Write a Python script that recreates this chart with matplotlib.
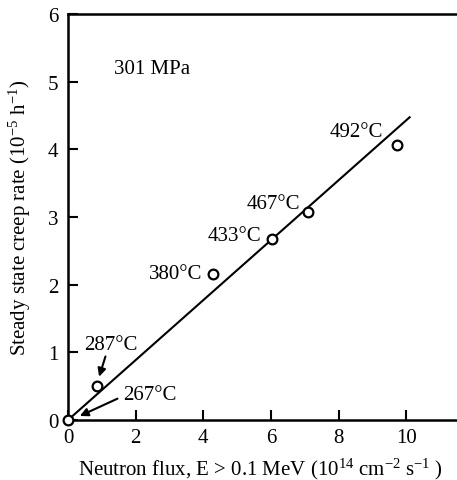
import matplotlib
matplotlib.use("Agg")
import matplotlib.pyplot as plt

# data
flux = [0.0, 0.85, 4.29, 6.02, 7.10, 9.73]
creep = [0.0, 0.51, 2.16, 2.68, 3.08, 4.07]
temps = ["267°C", "287°C", "380°C", "433°C", "467°C", "492°C"]
fit_x = [0.0, 10.1]
fit_slope = 0.443

plt.rcParams["font.family"] = ["Liberation Serif", "DejaVu Serif"]
plt.rcParams["mathtext.fontset"] = "custom"
plt.rcParams["mathtext.rm"] = "Liberation Serif"
plt.rcParams["mathtext.it"] = "Liberation Serif:italic"

fig = plt.figure(figsize=(4.57, 4.81), dpi=100)
ax = fig.add_axes([0.1488, 0.1247, 0.8512, 0.8441])

ax.plot(fit_x, [fit_slope * x for x in fit_x], "k-", lw=1.5)
ax.plot(flux, creep, "o", mfc="white", mec="k", ms=7, mew=1.6, zorder=5, clip_on=False)

ax.set_xlim(0, 11.5)
ax.set_ylim(0, 6)
ax.set_xticks([0, 2, 4, 6, 8, 10])
ax.set_yticks([0, 1, 2, 3, 4, 5, 6])
ax.tick_params(direction="in", length=7, width=1.5, labelsize=15)
ax.tick_params(axis="x", pad=6)
ax.tick_params(axis="y", pad=7)
for s in ["left", "bottom", "top"]:
    ax.spines[s].set_linewidth(1.8)
ax.spines["right"].set_visible(False)

fs = 15
ax.text(1.36, 5.2, "301 MPa", fontsize=fs, va="center", ha="left")
ax.text(9.3, 4.27, temps[5], fontsize=fs, va="center", ha="right")
ax.text(6.85, 3.2, temps[4], fontsize=fs, va="center", ha="right")
ax.text(5.7, 2.72, temps[3], fontsize=fs, va="center", ha="right")
ax.text(3.96, 2.16, temps[2], fontsize=fs, va="center", ha="right")
ax.annotate(temps[1], xy=(0.92, 0.64), xytext=(0.47, 1.12), fontsize=fs,
            va="center", ha="left",
            arrowprops=dict(arrowstyle="-|>", color="k", lw=1.5,
                            shrinkA=0, shrinkB=0, mutation_scale=12,
                            relpos=(0.42, 0.0)))
ax.annotate(temps[0], xy=(0.35, 0.06), xytext=(1.62, 0.38), fontsize=fs,
            va="center", ha="left",
            arrowprops=dict(arrowstyle="-|>", color="k", lw=1.5,
                            shrinkA=2, shrinkB=0, mutation_scale=12,
                            relpos=(0.0, 0.4)))

# x label placed by hand so the superscripts do not push it off the bottom
fig.text(0.569, 0.012,
         r"Neutron flux, E > 0.1 MeV (10$^{14}$ cm$^{-2}$ s$^{-1}$ )",
         fontsize=15, ha="center", va="baseline")
ax.set_ylabel(r"Steady state creep rate (10$^{-5}$ h$^{-1}$)", fontsize=15,
              labelpad=11)

fig.savefig("out.png", dpi=100)
